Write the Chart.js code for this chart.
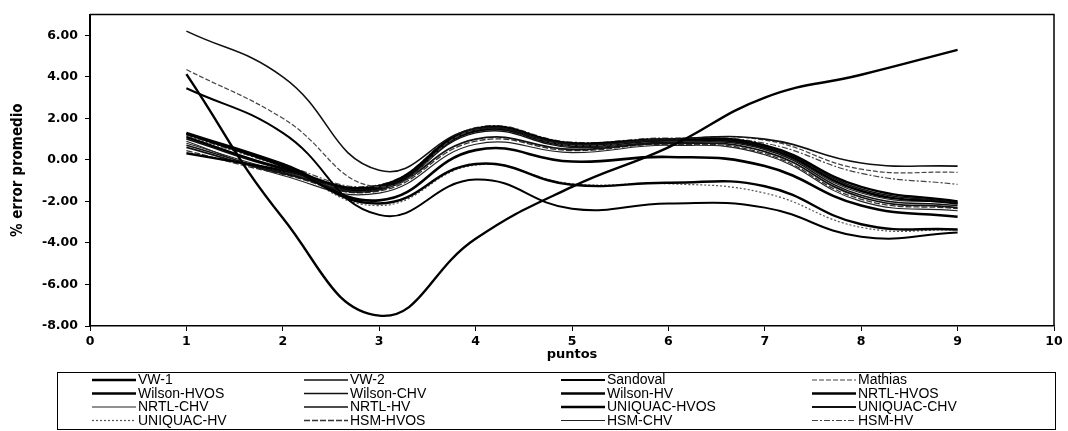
<!DOCTYPE html>
<html>
<head>
<meta charset="utf-8">
<script src="https://cdn.jsdelivr.net/npm/chart.js@4/dist/chart.umd.min.js"></script>
<style>
  html, body { margin: 0; padding: 0; background: #fff; }
</style>
</head>
<body>
<canvas id="chart" width="1068" height="431"></canvas>
<script>
// puntos (x) y % error promedio por modelo
const puntos = [1, 2, 3, 4, 5, 6, 7, 8, 9];

const seriesNames = [
  'VW-1', 'VW-2', 'Sandoval', 'Mathias',
  'Wilson-HVOS', 'Wilson-CHV', 'Wilson-HV', 'NRTL-HVOS',
  'NRTL-CHV', 'NRTL-HV', 'UNIQUAC-HVOS', 'UNIQUAC-CHV',
  'UNIQUAC-HV', 'HSM-HVOS', 'HSM-CHV', 'HSM-HV'
];

const vw1         = [4.13, -2.8, -7.5, -3.8, -1.3, 0.6, 3.0, 4.1, 5.3];
const vw2         = [6.2, 4.0, -0.5, 1.5, 0.75, 1.0, 1.0, -0.15, -0.3];
const sandoval    = [3.45, 1.3, -2.65, -0.95, -2.35, -2.1, -2.3, -3.7, -3.5];
const mathias     = [4.35, 2.0, -1.3, 1.45, 0.7, 1.0, 0.95, -0.45, -0.6];
const wilsonHVOS  = [1.1, -0.4, -1.25, 1.5, 0.8, 1.0, 0.7, -1.3, -2.0];
const wilsonCHV   = [1.0, -0.45, -1.3, 1.45, 0.75, 0.95, 0.65, -1.4, -2.05];
const wilsonHV    = [1.25, -0.3, -2.1, -0.2, -1.2, -1.1, -1.27, -3.1, -3.35];
const nrtlHVOS    = [0.32, -0.5, -1.35, 1.4, 0.7, 0.95, 0.6, -1.5, -2.1];
const nrtlCHV     = [0.8, -0.55, -1.4, 1.35, 0.65, 0.9, 0.55, -1.6, -2.1];
const nrtlHV      = [0.7, -0.6, -1.45, 1.3, 0.6, 0.85, 0.5, -1.7, -2.2];
const uniquacHVOS = [1.3, -0.2, -1.95, 0.47, -0.08, 0.14, -0.3, -2.2, -2.74];
const uniquacCHV  = [0.6, -0.65, -1.4, 1.0, 0.5, 0.8, 0.4, -1.8, -2.3];
const uniquacHV   = [1.15, -0.35, -2.2, -0.25, -1.15, -1.15, -1.6, -3.25, -3.38];
const hsmHVOS     = [0.45, -0.7, -1.5, 0.9, 0.45, 0.75, 0.3, -1.9, -2.35];
const hsmCHV      = [0.9, -0.75, -1.6, 0.75, 0.35, 0.7, 0.25, -2.0, -2.45];
const hsmHV       = [1.2, -0.25, -1.2, 1.55, 0.85, 1.05, 0.8, -0.65, -1.18];

const allValues = [vw1, vw2, sandoval, mathias, wilsonHVOS, wilsonCHV, wilsonHV, nrtlHVOS,
  nrtlCHV, nrtlHV, uniquacHVOS, uniquacCHV, uniquacHV, hsmHVOS, hsmCHV, hsmHV];

// line look of each series (scan is black & white)
const lineStyles = [
  { w: 2.4, dash: [], c: '#000' },
  { w: 1.6, dash: [], c: '#111' },
  { w: 2.0, dash: [], c: '#000' },
  { w: 1.2, dash: [5, 2], c: '#444' },
  { w: 2.4, dash: [], c: '#000' },
  { w: 1.6, dash: [], c: '#111' },
  { w: 2.4, dash: [], c: '#000' },
  { w: 2.4, dash: [], c: '#000' },
  { w: 1.1, dash: [], c: '#222' },
  { w: 1.5, dash: [], c: '#111' },
  { w: 2.6, dash: [], c: '#000' },
  { w: 1.8, dash: [], c: '#111' },
  { w: 1.2, dash: [2, 2], c: '#555' },
  { w: 1.3, dash: [6, 2], c: '#333' },
  { w: 1.1, dash: [], c: '#222' },
  { w: 1.2, dash: [6, 2, 2, 2], c: '#444' }
];

const datasets = seriesNames.map((name, i) => ({
  label: name,
  data: puntos.map((p, j) => ({ x: p, y: allValues[i][j] })),
  borderColor: lineStyles[i].c,
  borderWidth: lineStyles[i].w,
  borderDash: lineStyles[i].dash,
  pointRadius: 0,
  fill: false,
  tension: 0.45
}));

const frame = {
  id: 'frame',
  afterDatasetsDraw(chart) {
    const { ctx, chartArea: a } = chart;
    ctx.save();
    ctx.strokeStyle = '#000';
    ctx.lineWidth = 1.5;
    ctx.beginPath();
    ctx.moveTo(a.left, a.top);
    ctx.lineTo(a.right, a.top);
    ctx.lineTo(a.right, a.bottom);
    ctx.stroke();
    ctx.restore();
  }
};

const gridLegend = {
  id: 'gridLegend',
  afterDraw(chart, args, opts) {
    const { ctx } = chart;
    ctx.save();
    ctx.strokeStyle = '#000';
    ctx.lineWidth = 1;
    ctx.strokeRect(opts.box[0] + 0.5, opts.box[1] + 0.5, opts.box[2], opts.box[3]);
    ctx.font = opts.font;
    ctx.textBaseline = 'middle';
    ctx.fillStyle = '#000';
    chart.data.datasets.forEach((ds, i) => {
      const col = i % 4, row = Math.floor(i / 4);
      const tx = opts.cols[col], y = opts.rows[row];
      ctx.save();
      ctx.strokeStyle = ds.borderColor;
      ctx.lineWidth = ds.borderWidth;
      ctx.setLineDash(ds.borderDash);
      ctx.beginPath();
      ctx.moveTo(tx - 46, y);
      ctx.lineTo(tx - 2, y);
      ctx.stroke();
      ctx.restore();
      ctx.fillText(ds.label, tx, y + 0.5);
    });
    ctx.restore();
  }
};

const tickFont = { family: 'DejaVu Sans', size: 12.5, weight: 'bold' };

new Chart(document.getElementById('chart'), {
  type: 'line',
  data: { datasets },
  plugins: [frame, gridLegend],
  options: {
    responsive: false,
    devicePixelRatio: 1,
    animation: false,
    layout: { padding: { left: 0, right: 14, top: 6, bottom: 69 } },
    plugins: {
      legend: { display: false },
      tooltip: { enabled: false },
      gridLegend: {
        box: [57, 372, 998, 57],
        cols: [138, 350, 607, 858],
        rows: [380, 393.5, 407, 420.5],
        font: '14px "Liberation Sans", Arial, sans-serif'
      }
    },
    scales: {
      x: {
        type: 'linear',
        min: 0,
        max: 10,
        ticks: { stepSize: 1, color: '#000', font: tickFont, padding: 3, maxRotation: 0 },
        grid: { drawOnChartArea: false, drawTicks: true, tickLength: 5, color: '#000' },
        border: { color: '#000', width: 1.5 },
        title: {
          display: true, text: 'puntos', color: '#000',
          font: { family: 'DejaVu Sans', size: 13, weight: 'bold' },
          padding: { top: 0, bottom: 0 }
        },
        afterFit: s => { s.height = 36; }
      },
      y: {
        min: -8,
        max: 7,
        afterBuildTicks: s => { s.ticks = s.ticks.filter(t => t.value % 2 === 0); },
        ticks: { stepSize: 2, color: '#000', font: tickFont, padding: 7, callback: v => v.toFixed(2) },
        grid: { drawOnChartArea: false, drawTicks: true, tickLength: 5, color: '#000' },
        border: { color: '#000', width: 2 },
        title: {
          display: true, text: '% error promedio', color: '#000',
          font: { family: "'Liberation Sans Narrow', 'DejaVu Sans Condensed', sans-serif", size: 15, weight: 'bold' },
          padding: { top: 9, bottom: 0 }
        },
        afterFit: s => { s.width = 90; }
      }
    }
  }
});
</script>
</body>
</html>
